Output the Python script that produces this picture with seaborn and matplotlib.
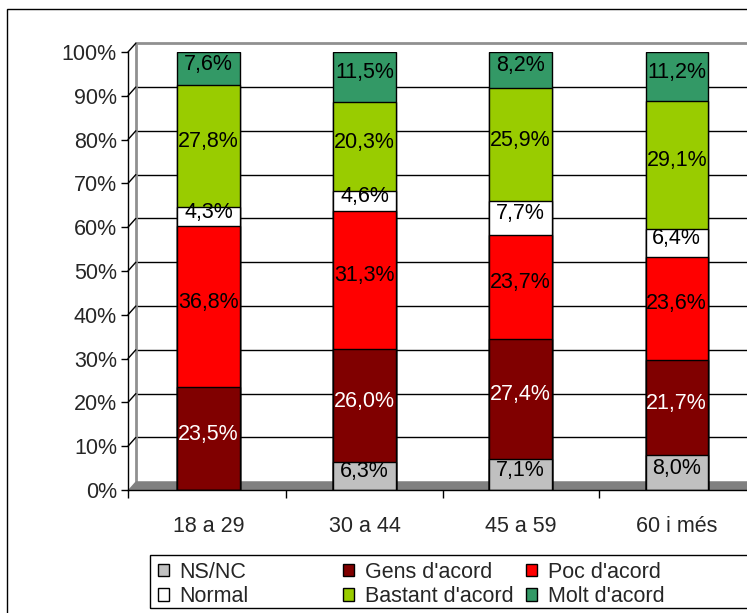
import numpy as np
import pandas as pd
import matplotlib
matplotlib.use('Agg')
import matplotlib.pyplot as plt
from matplotlib.patches import Rectangle, Polygon, Patch
import seaborn as sns

# dades
grups = ['18 a 29', '30 a 44', '45 a 59', '60 i més']
series = ['NS/NC', "Gens d'acord", "Poc d'acord", 'Normal', "Bastant d'acord", "Molt d'acord"]
ns_nc = [0.0, 6.3, 7.1, 8.0]
gens = [23.5, 26.0, 27.4, 21.7]
poc = [36.8, 31.3, 23.7, 23.6]
normal = [4.3, 4.6, 7.7, 6.4]
bastant = [27.8, 20.3, 25.9, 29.1]
molt = [7.6, 11.5, 8.2, 11.2]

colors = ['#C0C0C0', '#800000', '#FF0000', '#FFFFFF', '#99CC00', '#339966']
text_colors = ['black', 'white', 'black', 'black', 'black', 'black']

sns.set_theme(style='white')
plt.rcParams['font.family'] = ['Liberation Sans', 'DejaVu Sans']
FS = 15.5

W, H = 747, 613
def fx(px):
    return px / W
def fy(py):
    return 1 - py / H

fig = plt.figure(figsize=(W / 100, H / 100), dpi=100)
ax = fig.add_axes([fx(128), fy(490), (W - 128) / W, (490 - 52) / H])

stack = np.array([ns_nc, gens, poc, normal, bastant, molt])
cum = np.cumsum(stack, axis=0)

# barres apilades: capes acumulades de dalt a baix
for k in reversed(range(len(series))):
    sns.barplot(x=grups, y=cum[k], color=colors[k], saturation=1,
                edgecolor='black', linewidth=1, width=0.4,
                errorbar=None, ax=ax, zorder=2)

# etiquetes
for k in range(len(series)):
    for i in range(len(grups)):
        v = stack[k, i]
        if v <= 0:
            continue
        y = cum[k, i] - v / 2 + 1.0
        ax.text(i, y, f'{v:.1f}'.replace('.', ',') + '%', ha='center', va='center',
                color=text_colors[k], fontsize=FS, zorder=5)

xmin, xmax = -0.515, 3.45
ax.set_xlim(xmin, xmax)
ax.set_ylim(0, 100)

# pseudo 3D: parets i terra
dx, dy = 0.05, 2.0
for y in range(10, 100, 10):
    ax.plot([xmin + dx, xmax + 1], [y + dy, y + dy], color='black', lw=1, zorder=0.5, clip_on=False)
for y in range(10, 101, 10):
    ax.plot([xmin, xmin + dx], [y, y + dy], color='black', lw=1, zorder=0.6, clip_on=False)
ax.plot([xmin + dx, xmax + 1], [100 + dy, 100 + dy], color='#909090', lw=2, zorder=0.5, clip_on=False)
ax.plot([xmin + dx, xmin + dx], [dy, 100 + dy], color='#909090', lw=2, zorder=0.5, clip_on=False)
floor = Polygon([(xmin, 0), (xmin + dx, dy), (xmax + 1, dy), (xmax + 1, 0)],
                closed=True, facecolor='#808080', edgecolor='none', zorder=0.8)
ax.add_patch(floor)

for s in ['top', 'right']:
    ax.spines[s].set_visible(False)
for s in ['left', 'bottom']:
    ax.spines[s].set_color('black')
    ax.spines[s].set_linewidth(1)

ax.set_yticks(range(0, 101, 10))
ax.set_yticklabels([f'{v}%' for v in range(0, 101, 10)])
ax.tick_params(axis='y', length=5, width=1, color='black', pad=3, labelsize=FS, left=True)
ax.set_xticks(range(len(grups)))
ax.set_xticklabels(grups)
ax.set_xticks([xmin, 0.5, 1.5, 2.5], minor=True)
ax.tick_params(axis='x', which='major', length=0, pad=19, labelsize=FS)
ax.tick_params(axis='x', which='minor', length=6, width=1, color='black', bottom=True)
ax.set_xlabel('')
ax.set_ylabel('')
ax.grid(False)

# vora exterior i llegenda
fig.add_artist(Rectangle((fx(7), -0.5), 2, fy(9) + 0.5, transform=fig.transFigure,
                         fill=False, edgecolor='black', lw=1))
fig.add_artist(Rectangle((fx(150), fy(608)), 2, (608 - 555) / H, transform=fig.transFigure,
                         fill=False, edgecolor='black', lw=1))

handles = [Patch(facecolor=c, edgecolor='black', linewidth=1) for c in colors]
cols = [([0, 3], 158), ([1, 4], 343), ([2, 5], 526)]
for idx, xpx in cols:
    leg = fig.legend([handles[j] for j in idx], [series[j] for j in idx],
                     loc='upper left', bbox_to_anchor=(fx(xpx), fy(562)),
                     frameon=False, borderpad=0, borderaxespad=0,
                     handlelength=0.5, handleheight=0.5, handletextpad=0.5,
                     labelspacing=0.15, fontsize=FS)

fig.savefig('out.png', dpi=100)
